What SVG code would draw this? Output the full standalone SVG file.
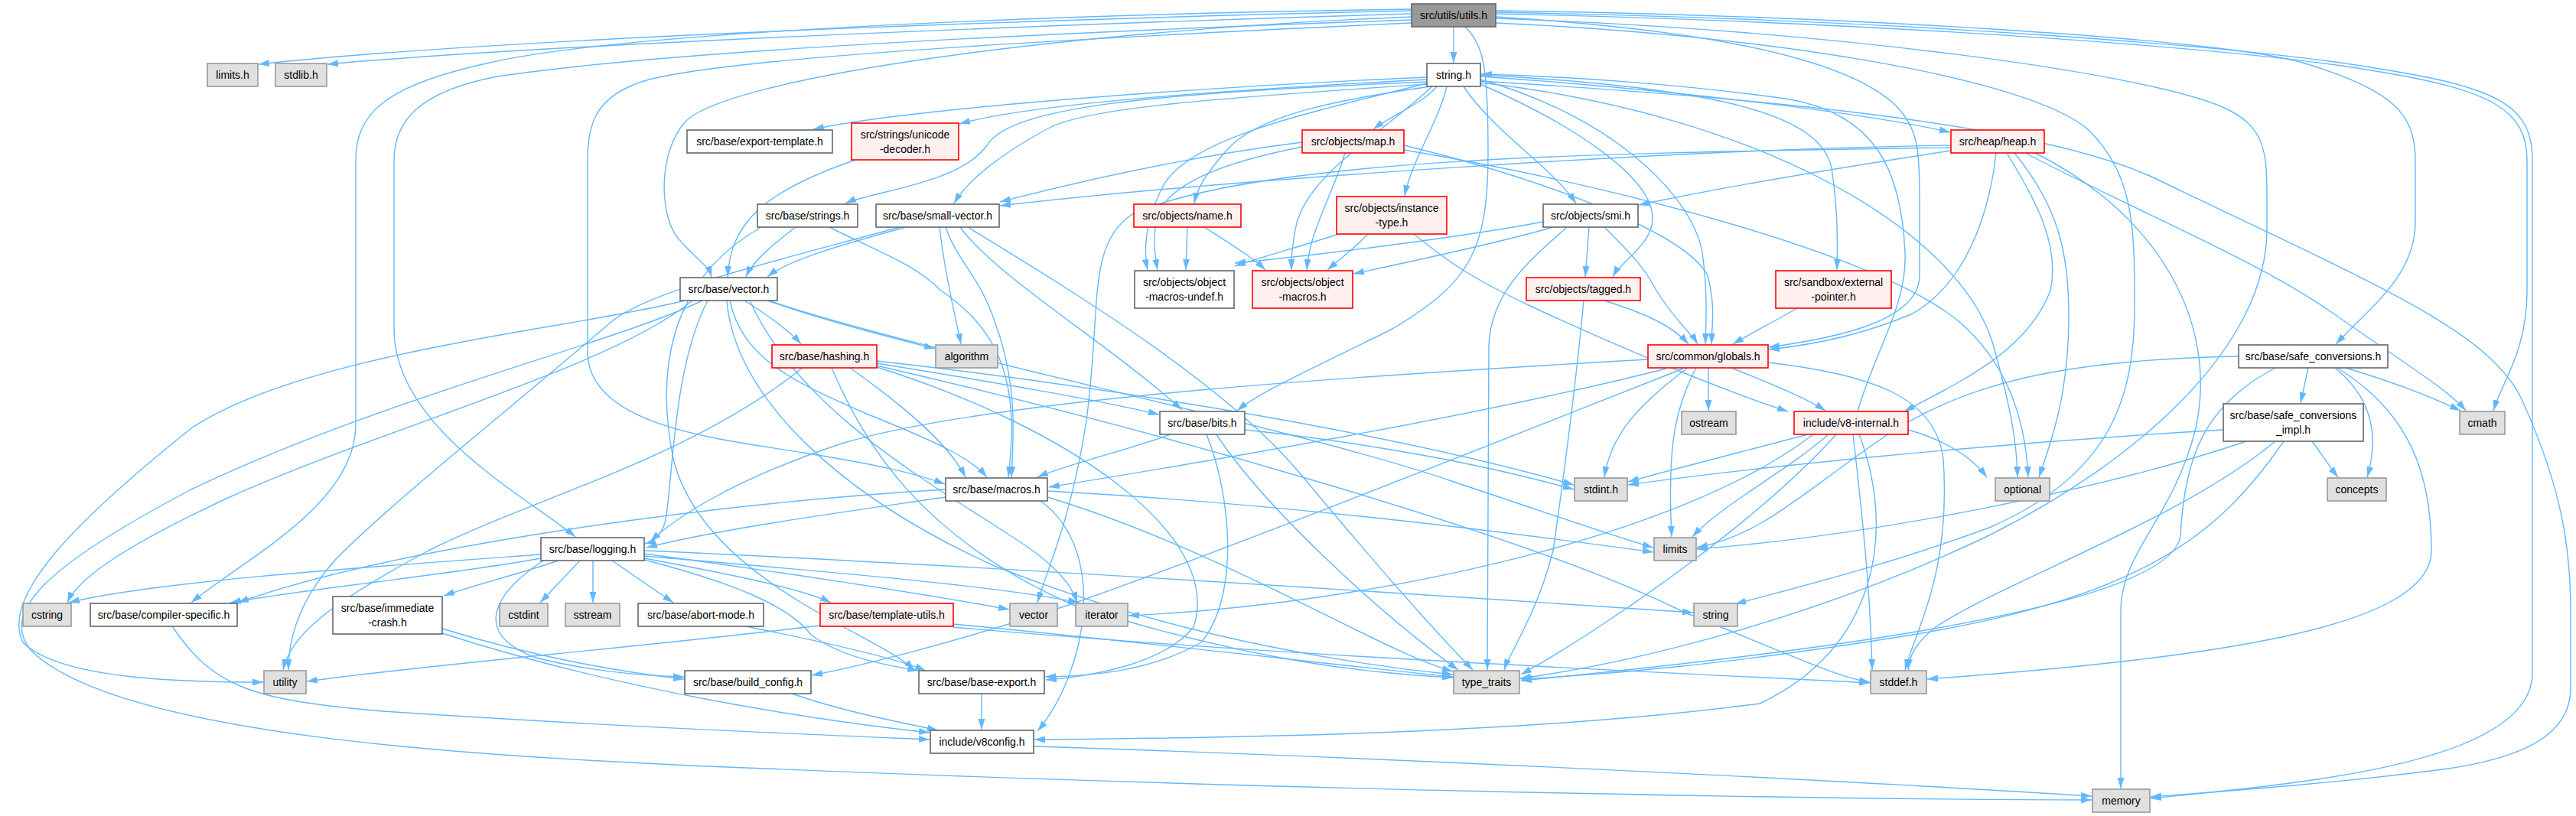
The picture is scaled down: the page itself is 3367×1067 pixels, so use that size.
<svg xmlns="http://www.w3.org/2000/svg" width="3367" height="1067" viewBox="0 0 3367 1067">
<style>
.e path{fill:none;stroke:#63b8ff;stroke-width:1.4;marker-end:url(#ah)}
.w rect{fill:#fff;stroke:#666;stroke-width:1.6}
.r rect{fill:#fff0f0;stroke:#f00;stroke-width:1.6}
.g rect{fill:#e0e0e0;stroke:#999;stroke-width:1.6}
.rt rect{fill:#999;stroke:#666;stroke-width:1.6}
text{font-family:"Liberation Sans",Arial,sans-serif;font-size:14px;text-anchor:middle;fill:#000}
</style>
<defs><marker id="ah" viewBox="0 0 14 10" refX="14" refY="5" markerWidth="14" markerHeight="10" markerUnits="userSpaceOnUse" orient="auto"><path d="M0,0.5 L14,5 L0,9.5 z" fill="#63b8ff"/></marker></defs>
<rect width="3367" height="1067" fill="#fff"/>
<g id="edges" class="e">
<path d="M1845,14 C1500,22 700,45 338,84"/>
<path d="M1845,18 C1500,28 750,55 428,84"/>
<path d="M1900,35 L1900,82"/>
<path d="M1845,22 C1400,40 950,100 895,160 C860,200 862,280 885,310 C905,335 925,345 930,362"/>
<path d="M1845,12 C1300,20 800,45 640,82 C500,112 465,150 465,210 L465,555 C465,660 320,730 250,788"/>
<path d="M1845,26 C1300,45 850,70 650,100 C545,120 515,160 515,210 L515,430 C515,560 690,650 752,702"/>
<path d="M1845,30 C1300,55 900,80 830,110 C780,130 768,160 768,210 L768,460 C768,560 950,575 1050,592 C1150,608 1200,620 1235,633"/>
<path d="M1915,35 C1940,60 1945,90 1945,200 C1945,330 1920,370 1820,430 C1720,480 1650,510 1617,537"/>
<path d="M1955,14 C2400,20 2900,50 3010,82 C3130,118 3157,150 3157,210 L3157,290 C3157,360 3100,400 3053,450"/>
<path d="M1955,16 C2500,26 2950,62 3110,90 C3270,115 3310,140 3310,210 L3310,880 C3310,1000 3000,1025 2811,1044"/>
<path d="M1955,18 C2500,30 2950,66 3105,93 C3260,118 3303,145 3303,210 L3303,380 C3303,460 3270,500 3259,537"/>
<path d="M1955,30 C2300,45 2650,100 2730,170 C2790,230 2790,300 2790,400 C2790,520 2760,620 2600,690 C2450,745 2320,775 2268,790"/>
<path d="M1955,24 C2400,40 2800,95 2905,140 C2962,165 2963,200 2963,260 L2963,300 C2963,450 2800,600 2600,700 C2350,820 2100,872 1987,887"/>
<path d="M1955,22 C2250,40 2420,80 2480,140 C2508,170 2509,200 2509,260 L2509,360 C2509,420 2400,442 2312,454"/>
<path d="M1865,101 C1600,112 1200,140 1063,169"/>
<path d="M1865,104 C1600,118 1350,135 1254,162"/>
<path d="M1865,107 C1500,122 1320,140 1290,190 C1255,240 1140,250 1105,266"/>
<path d="M1866,110 C1600,128 1420,140 1370,168 C1310,200 1265,235 1247,266"/>
<path d="M1870,113 C1750,130 1640,150 1600,200 C1575,230 1565,245 1561,266"/>
<path d="M1878,113 C1860,135 1820,150 1795,169"/>
<path d="M1891,113 C1880,160 1845,210 1836,256"/>
<path d="M1913,113 C1950,170 2030,220 2060,266"/>
<path d="M1935,110 C2050,160 2160,230 2160,285 C2160,320 2120,340 2108,362"/>
<path d="M1935,104 C2100,150 2210,250 2225,330 C2232,380 2230,420 2229,450"/>
<path d="M1935,100 C2200,118 2450,150 2549,173"/>
<path d="M1935,98 C2250,115 2380,150 2394,220 C2402,270 2402,320 2401,353"/>
<path d="M1865,109 C1700,150 1560,180 1522,240 C1495,290 1495,330 1500,353"/>
<path d="M1872,113 C1800,180 1705,230 1693,300 C1688,330 1688,340 1688,353"/>
<path d="M1935,108 C2300,150 2560,300 2605,450 C2630,540 2636,580 2637,624"/>
<path d="M1935,106 C2300,128 2650,160 2810,230 C3100,370 3250,430 3295,520 C3350,640 3360,720 3360,800 L3360,900 C3360,960 3300,990 3200,1005 C3050,1025 2900,1035 2811,1042"/>
<path d="M2428,538 C2450,460 2493,400 2490,330 C2485,220 2450,150 2340,130 C2200,110 2050,100 1936,97"/>
<path d="M1118,209 C1000,250 955,290 951,362"/>
<path d="M1040,297 C1010,320 985,340 975,362"/>
<path d="M1084,297 C1150,330 1195,345 1230,380 C1320,440 1330,520 1318,624"/>
<path d="M995,297 C900,350 850,450 880,600 C920,760 1150,830 1195,876"/>
<path d="M1184,297 C1100,320 1030,340 1003,362"/>
<path d="M1228,297 C1235,360 1248,410 1256,450"/>
<path d="M1255,297 C1300,360 1450,450 1545,536"/>
<path d="M1236,297 C1250,340 1280,360 1300,420 C1330,500 1325,570 1322,624"/>
<path d="M1265,297 C1400,380 1600,500 1700,620 C1800,740 1880,830 1925,876"/>
<path d="M1176,297 C1000,345 850,380 800,420 C660,540 520,650 440,730 C395,780 377,830 377,876"/>
<path d="M1552,297 L1550,353"/>
<path d="M1574,297 C1610,320 1635,335 1654,353"/>
<path d="M1702,192 C1600,212 1525,240 1512,285 C1506,315 1510,335 1513,353"/>
<path d="M1758,200 C1740,260 1712,300 1708,353"/>
<path d="M1835,190 C2000,230 2200,300 2232,360 C2242,400 2238,420 2237,450"/>
<path d="M1835,196 C2100,240 2450,330 2560,420 C2630,480 2648,560 2651,624"/>
<path d="M1702,186 C1550,205 1400,240 1307,264"/>
<path d="M2609,200 C2600,280 2570,370 2500,410 C2430,440 2360,452 2312,457"/>
<path d="M2623,200 C2660,260 2693,320 2680,380 C2650,460 2560,500 2489,538"/>
<path d="M2633,200 C2690,270 2705,330 2704,420 C2703,520 2680,580 2665,624"/>
<path d="M2647,200 C2800,280 2950,340 3050,410 C3150,480 3200,510 3223,537"/>
<path d="M2660,200 C2820,280 2900,420 2870,560 C2840,680 2772,720 2772,800 L2772,1031"/>
<path d="M2550,190 C2200,195 1600,235 1307,269"/>
<path d="M2550,197 C2400,220 2250,245 2142,268"/>
<path d="M2550,193 C2100,200 1650,205 1480,280 C1420,320 1440,400 1420,550 C1400,680 1370,740 1356,788"/>
<path d="M1750,306 C1700,322 1650,336 1614,348"/>
<path d="M1788,306 C1770,325 1750,340 1735,353"/>
<path d="M1848,306 C1890,340 1920,362 2000,400 C2150,470 2280,520 2337,538"/>
<path d="M2017,290 C1900,312 1700,336 1614,344"/>
<path d="M2030,297 C1950,320 1830,345 1769,358"/>
<path d="M2077,297 L2072,362"/>
<path d="M2097,297 C2130,330 2150,350 2165,380 C2190,420 2210,435 2219,450"/>
<path d="M2048,297 C2000,340 1950,380 1946,450 L1944,876"/>
<path d="M2097,393 C2150,410 2185,425 2207,450"/>
<path d="M2070,393 C2060,500 2040,650 2030,720 C2010,800 1975,850 1966,876"/>
<path d="M2349,403 C2320,420 2290,435 2265,450"/>
<path d="M973,393 C1000,410 1030,430 1047,450"/>
<path d="M1003,393 C1080,420 1160,440 1222,456"/>
<path d="M954,393 C970,470 1040,500 1130,540 C1230,580 1270,600 1290,624"/>
<path d="M1005,393 C1200,460 1700,560 1900,630 C2050,680 2120,705 2161,716"/>
<path d="M925,393 C880,480 880,620 870,680 C865,700 855,708 843,711"/>
<path d="M895,393 C750,430 400,460 250,560 C100,680 0,780 30,840 C80,890 250,892 344,892"/>
<path d="M918,393 C800,450 500,520 250,640 C60,740 0,800 40,850 C150,960 600,990 1000,1005 C1600,1030 2300,1045 2734,1046"/>
<path d="M950,393 C960,520 1100,650 1300,740 C1550,840 1800,872 1899,882"/>
<path d="M980,393 C1050,550 1250,650 1350,720 C1390,750 1402,770 1408,788"/>
<path d="M905,393 C800,480 500,560 300,650 C150,720 100,760 88,788"/>
<path d="M1146,475 C1300,500 1420,520 1515,542"/>
<path d="M1111,481 C1180,530 1240,580 1262,624"/>
<path d="M1146,472 C1400,500 1800,560 2057,634"/>
<path d="M1146,478 C1500,560 2000,700 2200,800 C2350,860 2400,885 2444,892"/>
<path d="M1087,481 C1130,580 1200,700 1400,790 C1650,870 1800,880 1899,886"/>
<path d="M1049,481 C900,600 700,650 560,720 C430,790 380,830 370,876"/>
<path d="M1146,480 C1400,560 1600,700 1560,820 C1520,870 1420,885 1367,889"/>
<path d="M1530,568 C1470,590 1400,605 1356,624"/>
<path d="M1627,562 C1800,580 1950,610 2057,640"/>
<path d="M1590,568 C1650,660 1800,800 1906,876"/>
<path d="M1577,568 C1610,650 1620,780 1570,840 C1500,880 1420,884 1366,885"/>
<path d="M1236,650 C1100,670 950,690 845,716"/>
<path d="M1236,640 C900,660 500,720 311,788"/>
<path d="M1369,642 C1700,660 2000,700 2161,722"/>
<path d="M1369,650 C1600,720 1800,850 1899,878"/>
<path d="M1360,655 C1450,720 1420,880 1356,956"/>
<path d="M2154,470 C1800,490 1300,520 1100,580 C950,630 880,680 850,708"/>
<path d="M2178,482 C1950,540 1600,600 1371,637"/>
<path d="M2200,482 C1900,600 1600,720 1400,790 C1250,840 1120,872 1061,883"/>
<path d="M2206,481 C2140,530 2105,570 2097,624"/>
<path d="M2217,481 C2185,540 2180,600 2185,702"/>
<path d="M2233,481 L2233,537"/>
<path d="M2263,481 C2310,500 2360,520 2386,537"/>
<path d="M2311,474 C2450,490 2530,520 2540,600 C2550,750 2505,820 2490,876"/>
<path d="M2363,568 C2280,590 2200,610 2128,630"/>
<path d="M2390,568 C2330,620 2250,660 2212,702"/>
<path d="M2400,568 C2300,680 2100,820 1988,882"/>
<path d="M2370,568 C2200,700 1800,790 1475,805"/>
<path d="M2422,568 C2435,680 2445,780 2447,876"/>
<path d="M2494,562 C2540,575 2575,595 2597,624"/>
<path d="M2430,568 C2480,700 2450,850 2300,920 C2000,960 1600,965 1352,967"/>
<path d="M3017,481 L3007,527"/>
<path d="M3052,481 C3100,520 3110,570 3094,624"/>
<path d="M3066,481 C3130,500 3180,520 3216,537"/>
<path d="M3055,481 C3150,540 3178,620 3178,720 C3178,820 2900,860 2519,888"/>
<path d="M2926,466 C2700,470 2560,500 2450,580 C2350,650 2300,700 2218,716"/>
<path d="M2974,481 C2880,530 2855,600 2850,700 C2840,800 2300,860 1988,890"/>
<path d="M2906,562 C2600,580 2300,610 2128,634"/>
<path d="M3022,577 C3035,595 3045,610 3056,624"/>
<path d="M2936,577 C2750,640 2450,700 2218,718"/>
<path d="M2974,577 C2850,680 2620,760 2530,820 C2505,840 2496,855 2494,876"/>
<path d="M2985,577 C2900,700 2800,780 2500,830 C2250,870 2100,882 1988,888"/>
<path d="M707,725 C500,740 200,760 90,788"/>
<path d="M707,730 C600,750 400,770 301,788"/>
<path d="M730,733 C680,750 620,765 580,779"/>
<path d="M758,733 L706,788"/>
<path d="M775,733 L775,788"/>
<path d="M800,733 L880,788"/>
<path d="M842,730 C950,750 1050,770 1086,788"/>
<path d="M842,724 C1000,745 1200,775 1319,797"/>
<path d="M842,727 C1050,745 1300,765 1410,788"/>
<path d="M842,720 C1300,740 1900,780 2213,801"/>
<path d="M710,733 C640,780 620,830 700,860 C780,880 850,884 894,885"/>
<path d="M842,732 C950,760 1030,790 1060,830 C1100,860 1160,870 1200,877"/>
<path d="M225,819 C280,900 330,915 500,930 C800,950 1050,960 1215,967"/>
<path d="M578,822 C700,860 820,880 894,888"/>
<path d="M578,828 C800,900 1050,940 1215,958"/>
<path d="M975,819 C1080,840 1170,860 1210,877"/>
<path d="M1072,818 C800,850 550,870 401,891"/>
<path d="M1246,816 C1500,840 1750,870 1899,885"/>
<path d="M1246,820 C1700,860 2200,880 2444,893"/>
<path d="M1035,907 C1100,930 1180,945 1226,955"/>
<path d="M1283,907 L1283,954"/>
<path d="M1351,976 C1800,990 2400,1020 2734,1041"/>
</g>
<g id="n0" class="rt"><rect x="1845" y="5" width="110" height="30"/><text x="1900" y="25">src/utils/utils.h</text></g>
<g id="n1" class="g"><rect x="271" y="83" width="66" height="30"/><text x="304" y="103">limits.h</text></g>
<g id="n2" class="g"><rect x="360" y="83" width="67" height="30"/><text x="393.5" y="103">stdlib.h</text></g>
<g id="n3" class="w"><rect x="1865" y="83" width="70" height="30"/><text x="1900" y="103">string.h</text></g>
<g id="n4" class="w"><rect x="898" y="170" width="190" height="30"/><text x="993" y="190">src/base/export-template.h</text></g>
<g id="n5" class="r"><rect x="1113" y="161" width="140" height="48"/><text x="1183" y="181">src/strings/unicode</text><text x="1183" y="200">-decoder.h</text></g>
<g id="n6" class="r"><rect x="1702" y="170" width="133" height="30"/><text x="1768.5" y="190">src/objects/map.h</text></g>
<g id="n7" class="r"><rect x="2550" y="170" width="122" height="30"/><text x="2611" y="190">src/heap/heap.h</text></g>
<g id="n8" class="w"><rect x="990" y="267" width="131" height="30"/><text x="1055.5" y="287">src/base/strings.h</text></g>
<g id="n9" class="w"><rect x="1145" y="267" width="161" height="30"/><text x="1225.5" y="287">src/base/small-vector.h</text></g>
<g id="n10" class="r"><rect x="1482" y="267" width="140" height="30"/><text x="1552" y="287">src/objects/name.h</text></g>
<g id="n11" class="r"><rect x="1747" y="257" width="144" height="49"/><text x="1819" y="277">src/objects/instance</text><text x="1819" y="296">-type.h</text></g>
<g id="n12" class="w"><rect x="2017" y="267" width="124" height="30"/><text x="2079" y="287">src/objects/smi.h</text></g>
<g id="n13" class="w"><rect x="889" y="363" width="127" height="30"/><text x="952.5" y="383">src/base/vector.h</text></g>
<g id="n14" class="w"><rect x="1483" y="354" width="130" height="49"/><text x="1548" y="374">src/objects/object</text><text x="1548" y="393">-macros-undef.h</text></g>
<g id="n15" class="r"><rect x="1637" y="354" width="131" height="49"/><text x="1702.5" y="374">src/objects/object</text><text x="1702.5" y="393">-macros.h</text></g>
<g id="n16" class="r"><rect x="1995" y="363" width="149" height="30"/><text x="2069.5" y="383">src/objects/tagged.h</text></g>
<g id="n17" class="r"><rect x="2321" y="354" width="151" height="49"/><text x="2396.5" y="374">src/sandbox/external</text><text x="2396.5" y="393">-pointer.h</text></g>
<g id="n18" class="r"><rect x="1009" y="451" width="137" height="30"/><text x="1077.5" y="471">src/base/hashing.h</text></g>
<g id="n19" class="g"><rect x="1223" y="451" width="81" height="30"/><text x="1263.5" y="471">algorithm</text></g>
<g id="n20" class="r"><rect x="2154" y="451" width="157" height="30"/><text x="2232.5" y="471">src/common/globals.h</text></g>
<g id="n21" class="w"><rect x="2926" y="451" width="195" height="30"/><text x="3023.5" y="471">src/base/safe_conversions.h</text></g>
<g id="n22" class="w"><rect x="1516" y="538" width="111" height="30"/><text x="1571.5" y="558">src/base/bits.h</text></g>
<g id="n23" class="g"><rect x="2198" y="538" width="71" height="30"/><text x="2233.5" y="558">ostream</text></g>
<g id="n24" class="r"><rect x="2345" y="538" width="149" height="30"/><text x="2419.5" y="558">include/v8-internal.h</text></g>
<g id="n25" class="w"><rect x="2906" y="528" width="183" height="49"/><text x="2997.5" y="548">src/base/safe_conversions</text><text x="2997.5" y="567">_impl.h</text></g>
<g id="n26" class="g"><rect x="3215" y="538" width="59" height="30"/><text x="3244.5" y="558">cmath</text></g>
<g id="n27" class="w"><rect x="1236" y="625" width="133" height="30"/><text x="1302.5" y="645">src/base/macros.h</text></g>
<g id="n28" class="g"><rect x="2058" y="625" width="69" height="30"/><text x="2092.5" y="645">stdint.h</text></g>
<g id="n29" class="g"><rect x="2608" y="625" width="71" height="30"/><text x="2643.5" y="645">optional</text></g>
<g id="n30" class="g"><rect x="3042" y="625" width="77" height="30"/><text x="3080.5" y="645">concepts</text></g>
<g id="n31" class="w"><rect x="707" y="703" width="135" height="30"/><text x="774.5" y="723">src/base/logging.h</text></g>
<g id="n32" class="g"><rect x="2162" y="703" width="55" height="30"/><text x="2189.5" y="723">limits</text></g>
<g id="n33" class="g"><rect x="30" y="789" width="63" height="30"/><text x="61.5" y="809">cstring</text></g>
<g id="n34" class="w"><rect x="118" y="789" width="192" height="30"/><text x="214" y="809">src/base/compiler-specific.h</text></g>
<g id="n35" class="w"><rect x="435" y="780" width="143" height="49"/><text x="506.5" y="800">src/base/immediate</text><text x="506.5" y="819">-crash.h</text></g>
<g id="n36" class="g"><rect x="653" y="789" width="63" height="30"/><text x="684.5" y="809">cstdint</text></g>
<g id="n37" class="g"><rect x="739" y="789" width="71" height="30"/><text x="774.5" y="809">sstream</text></g>
<g id="n38" class="w"><rect x="834" y="789" width="164" height="30"/><text x="916" y="809">src/base/abort-mode.h</text></g>
<g id="n39" class="r"><rect x="1072" y="789" width="174" height="30"/><text x="1159" y="809">src/base/template-utils.h</text></g>
<g id="n40" class="g"><rect x="1320" y="789" width="62" height="30"/><text x="1351" y="809">vector</text></g>
<g id="n41" class="g"><rect x="1406" y="789" width="68" height="30"/><text x="1440" y="809">iterator</text></g>
<g id="n42" class="g"><rect x="2214" y="789" width="57" height="30"/><text x="2242.5" y="809">string</text></g>
<g id="n43" class="g"><rect x="345" y="877" width="55" height="30"/><text x="372.5" y="897">utility</text></g>
<g id="n44" class="w"><rect x="895" y="877" width="165" height="30"/><text x="977.5" y="897">src/base/build_config.h</text></g>
<g id="n45" class="w"><rect x="1201" y="877" width="164" height="30"/><text x="1283" y="897">src/base/base-export.h</text></g>
<g id="n46" class="g"><rect x="1900" y="877" width="86" height="30"/><text x="1943" y="897">type_traits</text></g>
<g id="n47" class="g"><rect x="2445" y="877" width="73" height="30"/><text x="2481.5" y="897">stddef.h</text></g>
<g id="n48" class="w"><rect x="1216" y="955" width="135" height="30"/><text x="1283.5" y="975">include/v8config.h</text></g>
<g id="n49" class="g"><rect x="2735" y="1032" width="75" height="30"/><text x="2772.5" y="1052">memory</text></g>
</svg>
